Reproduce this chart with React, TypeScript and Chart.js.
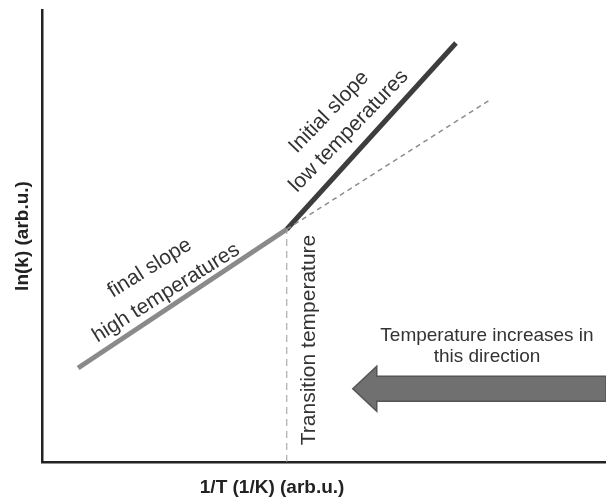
import React, { useEffect, useRef } from "react";
import { Chart, registerables } from "chart.js";

Chart.register(...registerables);

// ---- data (arbitrary units) ----
const finalSlopeX = [0.64, 4.34];
const finalSlopeY = [2.08, 5.15];
const initialSlopeX = [4.34, 7.34];
const initialSlopeY = [5.15, 9.27];
const extrapolationX = [4.34, 7.94];
const extrapolationY = [5.15, 8.01];
const transitionX = [4.34, 4.34];
const transitionY = [0, 5.15];

const xAxisTitle = "1/T (1/K) (arb.u.)";
const yAxisTitle = "ln(k) (arb.u.)";
const initialSlopeLabel = ["Initial slope", "low temperatures"];
const finalSlopeLabel = ["final slope", "high temperatures"];
const transitionLabel = "Transition temperature";
const arrowLabel = ["Temperature increases in", "this direction"];

const FONT = '"Liberation Sans", Arial, Helvetica, sans-serif';

const pts = (xs: number[], ys: number[]) => xs.map((x, i) => ({ x, y: ys[i] }));

const annotationPlugin = {
  id: "annotations",
  afterDatasetsDraw(chart: any) {
    const { ctx, scales } = chart;
    const xs = scales.x;
    const ys = scales.y;
    const px = (v: number) => xs.getPixelForValue(v);
    const py = (v: number) => ys.getPixelForValue(v);

    const text = (s: string, x: number, y: number, angleDeg: number, font: string, color = "#333") => {
      ctx.save();
      ctx.translate(x, y);
      ctx.rotate((angleDeg * Math.PI) / 180);
      ctx.font = font;
      ctx.fillStyle = color;
      ctx.textAlign = "center";
      ctx.textBaseline = "middle";
      ctx.fillText(s, 0, 0);
      ctx.restore();
    };

    const slantFont = `21px ${FONT}`;
    text(initialSlopeLabel[0], px(5.09), py(7.74), -46, slantFont);
    text(initialSlopeLabel[1], px(5.44), py(7.32), -46, slantFont);
    text(finalSlopeLabel[0], px(1.91), py(4.29), -32, slantFont);
    text(finalSlopeLabel[1], px(2.2), py(3.74), -32, slantFont);
    text(transitionLabel, px(4.73), py(2.7), -90, slantFont);

    // arrow
    const tipX = px(5.51);
    const tipY = py(1.62);
    const baseX = tipX + 24;
    const endX = xs.right;
    ctx.save();
    ctx.beginPath();
    ctx.moveTo(tipX, tipY);
    ctx.lineTo(baseX, tipY - 22.5);
    ctx.lineTo(baseX, tipY - 12.5);
    ctx.lineTo(endX, tipY - 12.5);
    ctx.lineTo(endX, tipY + 12.5);
    ctx.lineTo(baseX, tipY + 12.5);
    ctx.lineTo(baseX, tipY + 22.5);
    ctx.closePath();
    ctx.fillStyle = "#707070";
    ctx.fill();
    ctx.lineWidth = 1.5;
    ctx.strokeStyle = "#555";
    ctx.stroke();
    ctx.restore();

    const hFont = `19px ${FONT}`;
    text(arrowLabel[0], px(7.89), py(2.79), 0, hFont);
    text(arrowLabel[1], px(7.89), py(2.32), 0, hFont);

    // x axis title
    text(xAxisTitle, px(4.08), ys.bottom + 26, 0, `bold 19px ${FONT}`, "#222");
  },
};

export default function App() {
  const ref = useRef<HTMLCanvasElement | null>(null);

  useEffect(() => {
    document.body.style.margin = "0";
    const canvas = ref.current;
    if (!canvas) return;
    const chart = new Chart(canvas, {
      type: "scatter",
      data: {
        datasets: [
          {
            data: pts(transitionX, transitionY),
            showLine: true,
            borderColor: "#9a9a9a",
            borderWidth: 1,
            borderDash: [7, 5],
            pointRadius: 0,
          },
          {
            data: pts(extrapolationX, extrapolationY),
            showLine: true,
            borderColor: "#8c8c8c",
            borderWidth: 1.5,
            borderDash: [5, 4],
            pointRadius: 0,
          },
          {
            data: pts(finalSlopeX, finalSlopeY),
            showLine: true,
            borderColor: "#8a8a8a",
            borderWidth: 5,
            borderCapStyle: "butt",
            pointRadius: 0,
          },
          {
            data: pts(initialSlopeX, initialSlopeY),
            showLine: true,
            borderColor: "#3d3d3d",
            borderWidth: 5,
            borderCapStyle: "butt",
            pointRadius: 0,
          },
        ],
      },
      options: {
        animation: false,
        responsive: false,
        devicePixelRatio: 1,
        layout: { padding: { top: 10, right: 0, left: 0, bottom: 0 } },
        plugins: { legend: { display: false }, tooltip: { enabled: false } },
        scales: {
          x: {
            type: "linear",
            min: 0,
            max: 10,
            grid: { display: false },
            ticks: { display: false },
            border: { color: "#222", width: 2.5 },
            afterFit: (s: any) => {
              s.height = 39;
            },
          },
          y: {
            type: "linear",
            min: 0,
            max: 10,
            grid: { display: false },
            ticks: { display: false },
            border: { color: "#222", width: 2.5 },
            title: {
              display: true,
              text: yAxisTitle,
              color: "#222",
              font: { family: FONT, size: 19, weight: "bold" },
              padding: { top: 11, bottom: 0 },
            },
            afterFit: (s: any) => {
              s.width = 42;
            },
          },
        },
      },
      plugins: [annotationPlugin],
    } as any);
    return () => chart.destroy();
  }, []);

  return <canvas ref={ref} width={606} height={501} style={{ display: "block" }} />;
}
